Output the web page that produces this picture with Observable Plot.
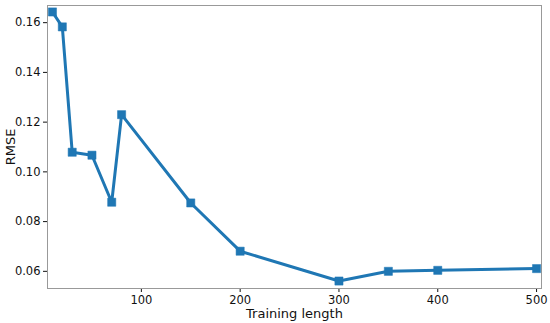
<!DOCTYPE html>
<html><head>
<meta charset="utf-8">
<script src="https://cdn.jsdelivr.net/npm/d3@7"></script>
<script src="https://cdn.jsdelivr.net/npm/@observablehq/plot@0.6"></script>
<style>body{margin:0;background:#fff;} svg{font-family:"DejaVu Sans",sans-serif;}</style>
</head><body><div id="chart"></div>
<script>
const trainingLength = [10, 20, 30, 50, 70, 80, 150, 200, 300, 350, 400, 500];
const rmse = [0.1643, 0.1583, 0.1079, 0.1067, 0.0878, 0.1230, 0.0875, 0.0681, 0.0561, 0.0600, 0.0604, 0.0611];
const xTicks = [100, 200, 300, 400, 500];
const yTicks = [0.06, 0.08, 0.10, 0.12, 0.14, 0.16];
const data = trainingLength.map((x, i) => ({x, y: rmse[i]}));
const color = "#1f77b4";
const chart = Plot.plot({
  width: 550, height: 323,
  marginLeft: 47, marginRight: 9, marginTop: 5, marginBottom: 35,
  style: {fontSize: "11.5px", fontFamily: "DejaVu Sans, sans-serif", color: "#111"},
  x: {domain: [5, 505], ticks: xTicks, tickSize: 4, tickPadding: 3, label: "Training length", labelArrow: "none", labelAnchor: "center", labelOffset: 29},
  y: {domain: [0.0531, 0.1669], ticks: yTicks, tickSize: 4, tickPadding: 3, tickFormat: d3.format(".2f"), label: "RMSE", labelArrow: "none", labelAnchor: "center", labelOffset: 42},
  marks: [
    Plot.frame({stroke: "#999", strokeWidth: 1}),
    Plot.line(data, {x: "x", y: "y", stroke: color, strokeWidth: 3}),
    Plot.dot(data, {x: "x", y: "y", symbol: "square", r: 4.6, fill: color, stroke: color, strokeWidth: 0.5})
  ]
});
document.getElementById("chart").appendChild(chart);
d3.select(chart).selectAll("[aria-label$='axis label'] text").style("font-size", "13px");
</script>
</body></html>
